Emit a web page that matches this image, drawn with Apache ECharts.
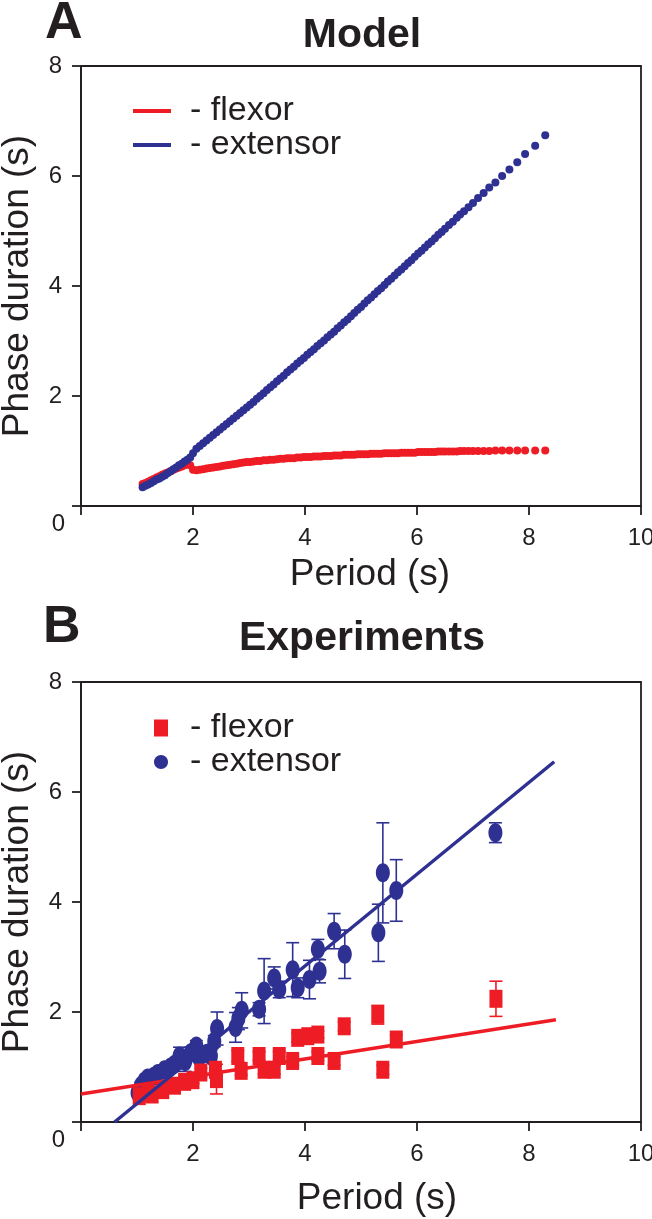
<!DOCTYPE html>
<html>
<head>
<meta charset="utf-8">
<script src="https://cdn.jsdelivr.net/npm/echarts@6/dist/echarts.min.js"></script>
<style>
html,body{margin:0;padding:0;background:#fff;}
#chart{width:652px;height:1219px;}
</style>
</head>
<body>
<div id="chart"></div>
<script>
// ---------- Panel A: model (period in s, phase durations in s) ----------
const modelPeriod = [
  1.10,1.15,1.20,1.25,1.30,1.35,1.40,1.45,1.50,1.55,
  1.60,1.65,1.70,1.75,1.80,1.85,1.90,1.95,2.00,2.06,
  2.12,2.18,2.24,2.30,2.36,2.42,2.48,2.54,2.60,2.66,
  2.72,2.78,2.84,2.90,2.96,3.02,3.08,3.14,3.20,3.26,
  3.32,3.38,3.44,3.50,3.56,3.62,3.68,3.74,3.80,3.86,
  3.92,3.98,4.04,4.10,4.16,4.22,4.28,4.34,4.40,4.46,
  4.52,4.58,4.64,4.70,4.76,4.82,4.88,4.94,5.00,5.06,
  5.12,5.18,5.24,5.30,5.36,5.42,5.48,5.54,5.60,5.66,
  5.72,5.78,5.84,5.90,5.96,6.02,6.08,6.14,6.20,6.26,
  6.32,6.38,6.44,6.50,6.57,6.64,6.71,6.77,6.84,6.92,
  7.00,7.09,7.19,7.29,7.40,7.52,7.65,7.79,7.93,8.11,
  8.29
];
const modelExtensor = [
  0.34,0.37,0.39,0.42,0.45,0.48,0.50,0.53,0.56,0.60,
  0.63,0.67,0.70,0.74,0.77,0.81,0.84,0.88,0.96,1.04,
  1.09,1.14,1.19,1.24,1.29,1.34,1.39,1.44,1.49,1.54,
  1.59,1.64,1.69,1.74,1.79,1.84,1.89,1.95,2.00,2.05,
  2.11,2.16,2.21,2.27,2.32,2.37,2.43,2.48,2.53,2.59,
  2.64,2.69,2.75,2.80,2.85,2.91,2.96,3.01,3.07,3.12,
  3.17,3.23,3.28,3.34,3.39,3.45,3.51,3.57,3.62,3.68,
  3.74,3.79,3.85,3.91,3.96,4.02,4.08,4.13,4.19,4.25,
  4.30,4.36,4.42,4.47,4.53,4.59,4.64,4.70,4.76,4.81,
  4.87,4.93,4.98,5.04,5.11,5.17,5.24,5.30,5.36,5.43,
  5.51,5.60,5.69,5.79,5.88,6.00,6.12,6.25,6.40,6.55,
  6.74
];
const modelFlexor = [
  0.40,0.42,0.44,0.47,0.49,0.52,0.54,0.57,0.59,0.61,
  0.63,0.66,0.68,0.70,0.72,0.74,0.76,0.74,0.66,0.65,
  0.66,0.67,0.68,0.69,0.70,0.71,0.72,0.73,0.74,0.75,
  0.76,0.77,0.78,0.79,0.80,0.80,0.81,0.82,0.82,0.83,
  0.83,0.84,0.84,0.85,0.86,0.86,0.87,0.87,0.87,0.88,
  0.88,0.89,0.89,0.89,0.90,0.90,0.90,0.91,0.91,0.91,
  0.92,0.92,0.92,0.93,0.93,0.93,0.93,0.94,0.94,0.94,
  0.94,0.95,0.95,0.95,0.95,0.96,0.96,0.96,0.96,0.96,
  0.97,0.97,0.97,0.97,0.97,0.98,0.98,0.98,0.98,0.98,
  0.98,0.99,0.99,0.99,0.99,0.99,0.99,1.00,1.00,1.00,
  1.00,1.00,1.00,1.00,1.01,1.01,1.01,1.01,1.01,1.01,
  1.01
];

// ---------- Panel B: experiments ----------
const flexorPeriod   = [1.04,1.19,1.27,1.46,1.67,1.85,2.00,2.14,2.40,2.42,2.80,2.86,3.18,3.27,3.45,3.54,3.78,3.87,4.05,4.23,4.23,4.52,4.70,5.30,5.39,5.63,7.41];
const flexorDuration = [0.47,0.53,0.50,0.58,0.66,0.73,0.76,0.90,0.95,0.78,1.20,0.93,1.20,0.95,0.95,1.20,1.11,1.53,1.56,1.59,1.20,1.11,1.74,1.95,0.95,1.50,2.24];
const flexorError    = [0.05,0.05,0.05,0.06,0.06,0.06,0.06,0.08,0.08,0.27,0.10,0.08,0.08,0.08,0.08,0.08,0.08,0.08,0.06,0.06,0.08,0.08,0.08,0.17,0.08,0.08,0.32];

const extensorPeriod   = [1.01,1.07,1.13,1.19,1.30,1.37,1.49,1.60,1.67,1.76,1.86,1.96,2.06,2.11,2.25,2.32,2.38,2.43,2.76,2.81,2.87,3.18,3.27,3.45,3.54,3.78,3.87,4.08,4.23,4.26,4.52,4.71,5.31,5.39,5.63,7.40];
const extensorDuration = [0.53,0.66,0.74,0.80,0.83,0.88,0.95,1.00,1.05,1.20,1.10,1.26,1.38,1.17,1.25,1.20,1.47,1.70,1.72,1.88,2.03,2.05,2.38,2.62,2.41,2.77,2.44,2.59,3.14,2.74,3.47,3.05,3.44,4.53,4.21,5.26];
const extensorError    = [0.05,0.06,0.06,0.06,0.07,0.07,0.08,0.08,0.08,0.16,0.18,0.10,0.10,0.08,0.10,0.10,0.10,0.30,0.27,0.20,0.32,0.12,0.59,0.20,0.15,0.49,0.18,0.35,0.18,0.21,0.32,0.44,0.52,0.91,0.56,0.18];

// linear fits (end points)
const flexorFitPeriod   = [0.00, 8.48];
const flexorFitDuration = [0.51, 1.86];
const extensorFitPeriod   = [0.60, 8.45];
const extensorFitDuration = [0.00, 6.55];

const xTicks = {min: 0, max: 10, interval: 2};
const yTicks = {min: 0, max: 8, interval: 2};

// ---------- styling ----------
const RED = '#ee1c24', BLUE = '#2e3192', INK = '#231f20';
const FONT = '"Liberation Sans", Arial, Helvetica, sans-serif';
const ELLIPSE = 'path://M5 0C7.76 0 10 2.24 10 5C10 7.76 7.76 10 5 10C2.24 10 0 7.76 0 5C0 2.24 2.24 0 5 0Z';

const zip2 = (a, b) => a.map((v, i) => [v, b[i]]);
const zip3 = (a, b, c) => a.map((v, i) => [v, b[i], c[i]]);

function errorBars(color) {
  return function (params, api) {
    const x = api.value(0), y = api.value(1), e = api.value(2);
    const top = api.coord([x, y + e]);
    const bot = api.coord([x, y - e]);
    const hw = 6.5;
    const st = {stroke: color, lineWidth: 1.6};
    return {
      type: 'group',
      children: [
        {type: 'line', shape: {x1: top[0], y1: top[1], x2: bot[0], y2: bot[1]}, style: st},
        {type: 'line', shape: {x1: top[0] - hw, y1: top[1], x2: top[0] + hw, y2: top[1]}, style: st},
        {type: 'line', shape: {x1: bot[0] - hw, y1: bot[1], x2: bot[0] + hw, y2: bot[1]}, style: st}
      ]
    };
  };
}

function xAxisFor(gridIndex, nameGap, shift) {
  return {
    gridIndex, type: 'value', min: xTicks.min, max: xTicks.max, interval: xTicks.interval,
    name: 'Period (s)', nameLocation: 'middle', nameGap,
    nameTextStyle: {fontSize: 37, color: INK, fontFamily: FONT, padding: [0, 0, 0, shift]},
    axisLine: {show: true, onZero: false, lineStyle: {color: INK, width: 1.8}},
    axisTick: {show: true, length: 9, lineStyle: {color: INK, width: 1.8}},
    axisLabel: {fontSize: 24, color: INK, fontFamily: FONT, margin: 20,
      formatter: v => (v === 0 ? '' : String(v))},
    splitLine: {show: false}
  };
}
function yAxisFor(gridIndex) {
  return {
    gridIndex, type: 'value', min: yTicks.min, max: yTicks.max, interval: yTicks.interval,
    name: 'Phase duration (s)', nameLocation: 'middle', nameGap: 45,
    nameTextStyle: {fontSize: 37, color: INK, fontFamily: FONT},
    axisLine: {show: true, onZero: false, lineStyle: {color: INK, width: 1.8}},
    axisTick: {show: true, length: 9, lineStyle: {color: INK, width: 1.8}},
    axisLabel: {
      margin: 8, color: INK, fontSize: 24, fontFamily: FONT,
      formatter: v => (v === 0 ? '{z|0}' : '{n|' + v + '}'),
      rich: {
        n: {fontSize: 24, fontFamily: FONT, color: INK, padding: [0, 11, 0, 0]},
        z: {fontSize: 24, fontFamily: FONT, color: INK, padding: [36, 8, 0, 0]}
      }
    },
    splitLine: {show: false}
  };
}

const legendText = {fontSize: 34, color: INK, fontFamily: FONT, lineHeight: 32};
const gridBase = {left: 81, width: 560, height: 440, show: true, borderColor: INK, borderWidth: 1.8,
  backgroundColor: 'transparent', containLabel: false, outerBoundsMode: 'none'};

const option = {
  animation: false,
  backgroundColor: '#ffffff',
  grid: [
    Object.assign({top: 66}, gridBase),
    Object.assign({top: 682}, gridBase)
  ],
  xAxis: [xAxisFor(0, 50, 18), xAxisFor(1, 58, 32)],
  yAxis: [yAxisFor(0), yAxisFor(1)],
  legend: [
    {
      left: 133, top: 94, orient: 'vertical', padding: 0, itemGap: 0,
      itemWidth: 38, itemHeight: 4, selectedMode: false,
      data: [{name: 'flexor', icon: 'rect'}, {name: 'extensor', icon: 'rect'}],
      formatter: n => '- ' + n,
      itemStyle: {opacity: 1},
      textStyle: Object.assign({padding: [0, 0, 0, 14]}, legendText)
    },
    {
      left: 154, top: 711, orient: 'vertical', padding: 0, itemGap: 0,
      itemWidth: 14, itemHeight: 17, selectedMode: false,
      data: [{name: 'flexor', icon: 'rect', itemStyle: {opacity: 1}}, {name: 'extensor', icon: ELLIPSE, itemStyle: {opacity: 1}}],
      formatter: n => '- ' + n,
      itemStyle: {opacity: 1},
      textStyle: Object.assign({padding: [0, 0, 0, 17]}, legendText)
    }
  ],
  graphic: [
    {type: 'text', x: 45, y: 24, style: {text: 'A', font: 'bold 52px ' + FONT, fill: INK, textAlign: 'left', align: 'left', textVerticalAlign: 'middle', verticalAlign: 'middle'}},
    {type: 'text', x: 362, y: 36, style: {text: 'Model', font: 'bold 41px ' + FONT, fill: INK, textAlign: 'center', align: 'center', textVerticalAlign: 'middle', verticalAlign: 'middle'}},
    {type: 'text', x: 43, y: 628, style: {text: 'B', font: 'bold 52px ' + FONT, fill: INK, textAlign: 'left', align: 'left', textVerticalAlign: 'middle', verticalAlign: 'middle'}},
    {type: 'text', x: 362, y: 639, style: {text: 'Experiments', font: 'bold 41px ' + FONT, fill: INK, textAlign: 'center', align: 'center', textVerticalAlign: 'middle', verticalAlign: 'middle'}}
  ],
  series: [
    // Panel A
    {name: 'flexor', type: 'scatter', xAxisIndex: 0, yAxisIndex: 0, z: 2,
      symbol: 'circle', symbolSize: 8, itemStyle: {color: RED, opacity: 1},
      data: zip2(modelPeriod, modelFlexor)},
    {name: 'extensor', type: 'scatter', xAxisIndex: 0, yAxisIndex: 0, z: 3,
      symbol: 'circle', symbolSize: 8, itemStyle: {color: BLUE, opacity: 1},
      data: zip2(modelPeriod, modelExtensor)},
    // Panel B
    {name: 'extensor SE', type: 'custom', xAxisIndex: 1, yAxisIndex: 1, z: 2,
      renderItem: errorBars(BLUE), encode: {x: 0, y: 1},
      data: zip3(extensorPeriod, extensorDuration, extensorError)},
    {name: 'extensor', type: 'scatter', xAxisIndex: 1, yAxisIndex: 1, z: 3,
      symbol: ELLIPSE, symbolSize: [14, 19], itemStyle: {color: BLUE, opacity: 1},
      data: zip2(extensorPeriod, extensorDuration)},
    {name: 'flexor SE', type: 'custom', xAxisIndex: 1, yAxisIndex: 1, z: 4,
      renderItem: errorBars(RED), encode: {x: 0, y: 1},
      data: zip3(flexorPeriod, flexorDuration, flexorError)},
    {name: 'flexor', type: 'scatter', xAxisIndex: 1, yAxisIndex: 1, z: 5,
      symbol: 'rect', symbolSize: [13, 18], itemStyle: {color: RED, opacity: 1},
      data: zip2(flexorPeriod, flexorDuration)},
    {name: 'flexor fit', type: 'line', xAxisIndex: 1, yAxisIndex: 1, z: 6,
      showSymbol: false, symbol: 'none', lineStyle: {color: RED, width: 3.5},
      data: zip2(flexorFitPeriod, flexorFitDuration)},
    {name: 'extensor fit', type: 'line', xAxisIndex: 1, yAxisIndex: 1, z: 7,
      showSymbol: false, symbol: 'none', lineStyle: {color: BLUE, width: 3.5},
      data: zip2(extensorFitPeriod, extensorFitDuration)}
  ]
};

const chart = echarts.init(document.getElementById('chart'), null, {renderer: 'canvas'});
chart.setOption(option);
</script>
</body>
</html>
